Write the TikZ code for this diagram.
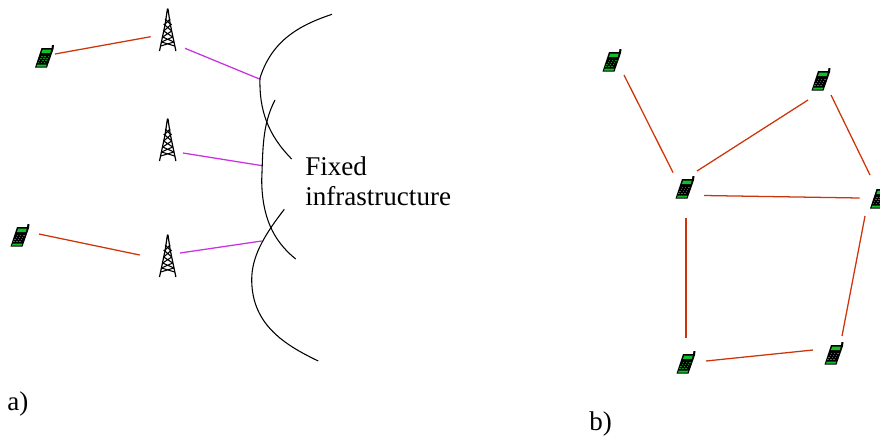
\documentclass[tikz,border=0pt]{standalone}
\usepackage{fontspec}
\setmainfont{Liberation Serif}
\tikzset{
  x=0.75pt,y=-0.75pt,
  hub/.style={inner sep=0pt,minimum size=0pt,outer sep=0pt},
  radio/.style={draw=linkred,line width=0.95pt},
  wired/.style={draw=linkpurple,line width=0.95pt},
  cloudedge/.style={draw=black,line width=0.8pt},
  lbl/.style={inner sep=0pt,anchor=base west,font=\fontsize{20.3pt}{22pt}\selectfont},
  phone/.pic={
    \fill[black] (-9.5,10.5) -- (2.5,10.5) -- (9,-8) -- (9.5,-12) -- (7.5,-12) -- (7,-9) -- (-3,-9) -- cycle;
    \fill[phonegreen] (-8,9.5) -- (1.5,9.5) -- (2.2,7.5) -- (-7.3,7.5) -- cycle;
    \fill[phonegreen] (-1.8,-7.5) -- (6.8,-7.5) -- (5.6,-3.8) -- (-3.2,-3.8) -- cycle;
    \foreach \r/\dx in {0/0,1/-1.2,2/-2.4,3/-3.6}{
      \foreach \c in {0,1,2}{
        \fill[phonedark] ({-3.2+\c*3.1+\dx},{-1.5+\r*2.3}) rectangle ++(1.5,1);
      }
    }
  },
  tower/.pic={
    \draw[black,line width=0.9pt,line join=round]
      (-8.2,21) -- (-2.5,-6) -- (-0.3,-21) -- (0.3,-21) -- (2.5,-6) -- (8.2,21);
    \draw[black,line width=0.8pt]
      (-4,1) -- (4,-6) (4,1) -- (-4,-6)
      (-5,7) -- (4,1) (5,7) -- (-4,1)
      (-6.2,12) -- (5,7) (6.2,12) -- (-5,7)
      (-7,16) -- (6.2,12) (7,16) -- (-6.2,12)
      (-2.5,-6) -- (2.5,-11) (2.5,-6) -- (-2.5,-11);
  }
}
\definecolor{linkred}{RGB}{206,52,10}
\definecolor{linkpurple}{RGB}{200,50,225}
\definecolor{phonegreen}{RGB}{20,190,40}
\definecolor{phonedark}{RGB}{15,140,30}
\begin{document}
\begin{tikzpicture}
\useasboundingbox (0,0) rectangle (880,436);
% part a
\node[hub] (pa1) at (44.5,57) {}; \pic at (pa1) {phone};
\node[hub] (pa2) at (20,236) {}; \pic at (pa2) {phone};
\node[hub] (ta1) at (167.7,30) {}; \pic at (ta1) {tower};
\node[hub] (ta2) at (167.7,140) {}; \pic at (ta2) {tower};
\node[hub] (ta3) at (167.7,256) {}; \pic at (ta3) {tower};
\coordinate (ja1) at (259.5,79);
\coordinate (ja2) at (262.3,165.7);
\coordinate (ja3) at (261.7,241);
\draw[radio] ([shift={(10.5,-3)}]pa1.center) -- ([shift={(-17,6.7)}]ta1.center);
\draw[radio] ([shift={(19,-2)}]pa2.center) -- ([shift={(-28,-1)}]ta3.center);
\draw[wired] ([shift={(17.3,18.3)}]ta1.center) -- (ja1);
\draw[wired] ([shift={(15.3,13)}]ta2.center) -- (ja2);
\draw[wired] ([shift={(12.3,-3)}]ta3.center) -- (ja3);
\draw[cloudedge] (332,14.3) .. controls (300,25) and (272,40) .. (260,78) .. controls (259,110) and (268,135) .. (291.7,159);
\draw[cloudedge] (275,100) .. controls (262,125) and (263,150) .. (261.7,180) .. controls (262,215) and (272,240) .. (295.7,259);
\draw[cloudedge] (284.3,209.3) .. controls (262,238) and (251.7,258) .. (251.7,280) .. controls (252,325) and (285,345) .. (318.3,361);
\node[lbl] (fix1) at (305,175) {Fixed};
\node[lbl] (fix2) at (305,205) {infrastructure};
\node[lbl] (la) at (7,410) {a)};
% part b
\node[hub] (b1) at (612,61) {}; \pic at (b1) {phone};
\node[hub] (b2) at (821,80) {}; \pic at (b2) {phone};
\node[hub] (b3) at (685,188) {}; \pic at (b3) {phone};
\node[hub] (b4) at (879.5,198) {}; \pic at (b4) {phone};
\node[hub] (b5) at (686,363) {}; \pic at (b5) {phone};
\node[hub] (b6) at (834,354) {}; \pic at (b6) {phone};
\draw[radio] ([shift={(12,14)}]b1.center) -- ([shift={(-12,-15.5)}]b3.center);
\draw[radio] ([shift={(12,-17)}]b3.center) -- ([shift={(-13,20)}]b2.center);
\draw[radio] ([shift={(10,15)}]b2.center) -- ([shift={(-9.5,-23)}]b4.center);
\draw[radio] ([shift={(19,7.5)}]b3.center) -- ([shift={(-20,0)}]b4.center);
\draw[radio] ([shift={(1,30)}]b3.center) -- ([shift={(0,-25)}]b5.center);
\draw[radio] ([shift={(-14.5,18)}]b4.center) -- ([shift={(8,-18)}]b6.center);
\draw[radio] ([shift={(20,-2)}]b5.center) -- ([shift={(-21,-4)}]b6.center);
\node[lbl] (lb) at (589,430) {b)};
\end{tikzpicture}
\end{document}
